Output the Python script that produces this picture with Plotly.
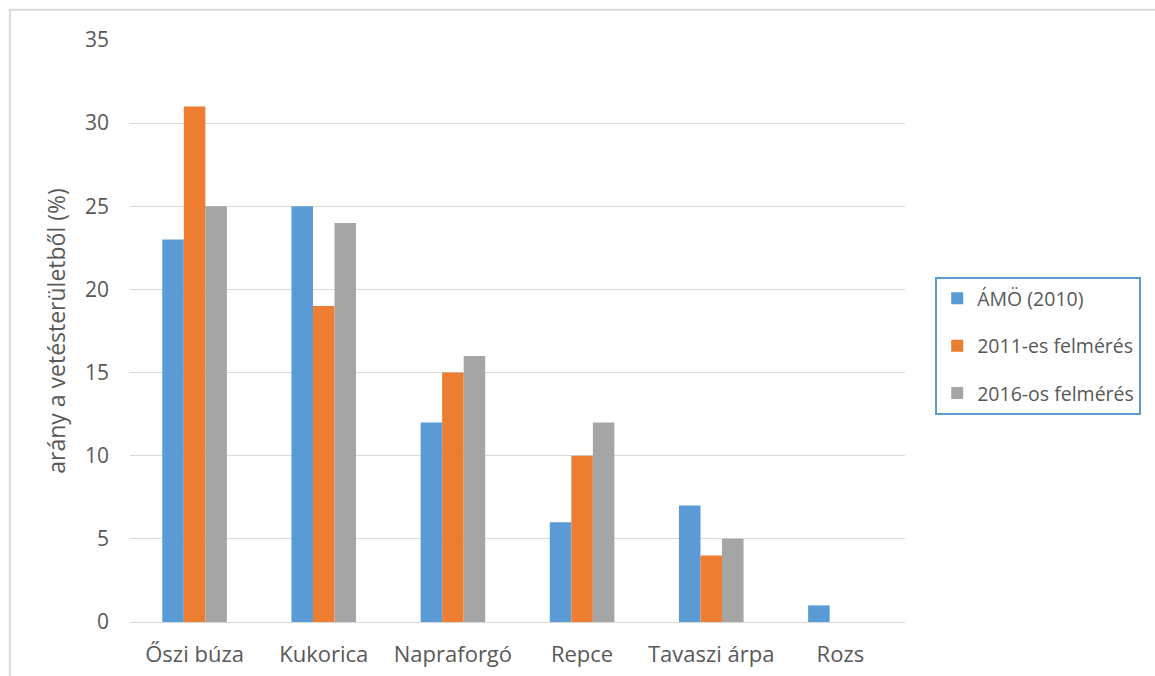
import plotly.graph_objects as go

# crop types and survey shares (% of sown area)
crops = ["Őszi búza", "Kukorica", "Napraforgó", "Repce", "Tavaszi árpa", "Rozs"]
amo_2010 = [23, 25, 12, 6, 7, 1]
survey_2011 = [31, 19, 15, 10, 4, 0]
survey_2016 = [25, 24, 16, 12, 5, 0]

series = [
    ("ÁMÖ (2010)", amo_2010, "#5B9BD5"),
    ("2011-es felmérés", survey_2011, "#ED7D31"),
    ("2016-os felmérés", survey_2016, "#A5A5A5"),
]

FONT = "Open Sans, Segoe UI, sans-serif"

fig = go.Figure()
for i, (name, vals, color) in enumerate(series):
    fig.add_trace(go.Bar(
        x=crops, y=vals, name=name,
        marker=dict(color=color, line=dict(width=0)),
        legendgroup=f"g{i}",
    ))

fig.update_layout(
    width=1155, height=676,
    margin=dict(l=130, r=250, t=40, b=54, autoexpand=False),
    paper_bgcolor="white", plot_bgcolor="white",
    barmode="group", bargap=0.5, bargroupgap=0,
    font=dict(family=FONT, color="#595959", size=18),
    showlegend=True,
    legend=dict(
        x=1.039, y=0.474, xanchor="left", yanchor="middle",
        bordercolor="#5B9BD5", borderwidth=2,
        font=dict(size=19.5, color="#595959"),
        tracegroupgap=19, itemwidth=30,
    ),
    xaxis=dict(
        showgrid=False, showline=True, linecolor="#D9D9D9", linewidth=1,
        ticks="", tickfont=dict(size=22), ticklabelstandoff=13,
        automargin=False,
    ),
    yaxis=dict(
        range=[0, 35], dtick=5, showgrid=True, gridcolor="#D9D9D9",
        zeroline=False, ticks="", tickfont=dict(size=21),
        ticklabelstandoff=20, automargin=False,
        title=dict(text="arány a vetésterületből (%)", font=dict(size=23), standoff=12),
    ),
)

# outer chart-area border (cropped at right and bottom in the original)
fig.add_shape(type="rect", xref="paper", yref="paper",
              x0=-0.155, x1=1.5, y0=-0.3, y1=1.052,
              line=dict(color="#D9D9D9", width=2), fillcolor="rgba(0,0,0,0)")

fig.write_html("out.html", config={"displayModeBar": False},
               post_script="document.body.style.margin='0';")
